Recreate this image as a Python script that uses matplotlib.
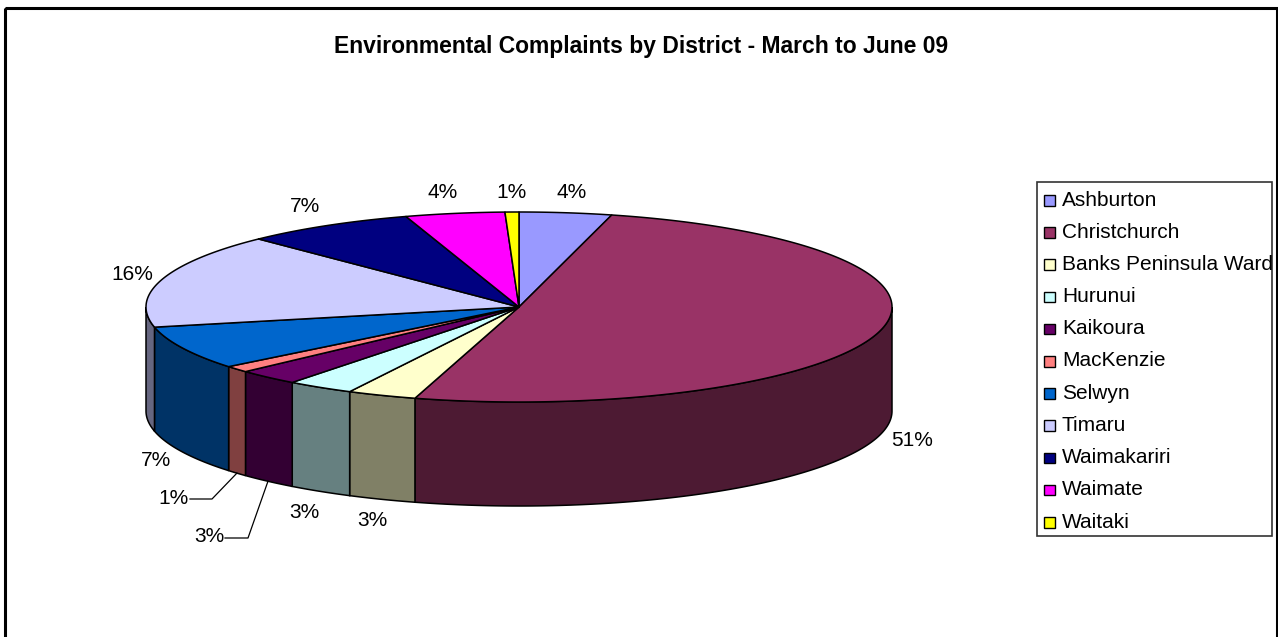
import numpy as np
import matplotlib.pyplot as plt
import matplotlib.colors as mcolors
from matplotlib.patches import Polygon, Rectangle

plt.rcParams['font.family'] = ['Liberation Sans', 'DejaVu Sans']

# share of complaints per district (%), March - June 09
districts = ["Ashburton", "Christchurch", "Banks Peninsula Ward", "Hurunui", "Kaikoura",
             "MacKenzie", "Selwyn", "Timaru", "Waimakariri", "Waimate", "Waitaki"]
share_pct = [4.0, 50.5, 3.0, 2.9, 2.7, 1.1, 7.4, 16.1, 7.4, 4.3, 0.6]
top_colors = ["#9999FF", "#993366", "#FFFFCC", "#CCFFFF", "#660066",
              "#FF8080", "#0066CC", "#CCCCFF", "#000080", "#FF00FF", "#FFFF00"]
title = "Environmental Complaints by District - March to June 09"

# where the percentage labels sit (pixel centres), and which ones get a leader line
label_xy = [(572, 193), (912, 441), (372, 521), (304, 512), (209, 537), (174, 498),
            (156, 460), (132, 275), (305, 207), (443, 193), (512, 193)]
leaders = {4: (225, 248), 5: (190, 212)}

# pie geometry, in pixels
cx, cy = 519, 307
rx, ry = 373, 95
depth = 104


def shade(c, f=0.5):
    r, g, b = mcolors.to_rgb(c)
    return (r * f, g * f, b * f)


def rim(t0, t1, dy=0):
    n = max(int(abs(t1 - t0) * 3) + 2, 2)
    t = np.radians(np.linspace(t0, t1, n))
    return np.column_stack([cx + rx * np.sin(t), cy - ry * np.cos(t) + dy])


fig = plt.figure(figsize=(12.78, 6.37), dpi=100)
ax = fig.add_axes([0, 0, 1, 1])
ax.set_xlim(0, 1278)
ax.set_ylim(637, 0)
ax.axis('off')

values = np.array(share_pct, dtype=float)
total = values.sum()
bounds = np.concatenate([[0], np.cumsum(values)]) / total * 360.0

# outer walls, only the front half (90..270 deg clockwise from 12 o'clock) shows
for i, col in enumerate(top_colors):
    a0, a1 = max(bounds[i], 90), min(bounds[i + 1], 270)
    if a1 <= a0:
        continue
    top = rim(a0, a1)
    bot = rim(a0, a1, depth)
    ax.add_patch(Polygon(np.vstack([top, bot[::-1]]), closed=True,
                         facecolor=shade(col), edgecolor='black', lw=1.1))

# top faces
for i, col in enumerate(top_colors):
    pts = np.vstack([[cx, cy], rim(bounds[i], bounds[i + 1])])
    ax.add_patch(Polygon(pts, closed=True, facecolor=col, edgecolor='black',
                         lw=1.1, joinstyle='round'))

# percentage labels
for i, v in enumerate(values):
    pct = int(np.floor(v / total * 100 + 0.5 + 1e-6))
    x, y = label_xy[i]
    ax.text(x, y, f"{pct}%", ha='center', va='center', fontsize=15)
    if i in leaders:
        mid = np.radians((bounds[i] + bounds[i + 1]) / 2)
        lx = cx + rx * np.sin(mid)
        ly = cy - ry * np.cos(mid) + depth
        x0, x1 = leaders[i]
        ax.plot([x0, x1, lx], [y + 1, y + 1, ly], color='black', lw=0.9)

ax.text(641, 47, title, ha='center', va='center', fontsize=16.5, fontweight='bold')

# legend box
ax.add_patch(Rectangle((1037, 182), 235, 354, facecolor='white', edgecolor='#333333', lw=1.2))
for i, (name, col) in enumerate(zip(districts, top_colors)):
    y = 200 + i * 32.2
    ax.add_patch(Rectangle((1044, y - 5), 10.5, 10.5, facecolor=col, edgecolor='black', lw=1.0))
    ax.text(1062, y, name, ha='left', va='center', fontsize=15, clip_on=False)

# chart frame
ax.add_patch(Rectangle((5, 8), 1272, 640, facecolor='none', edgecolor='black', lw=2.2))

fig.savefig("out.png", dpi=100)
